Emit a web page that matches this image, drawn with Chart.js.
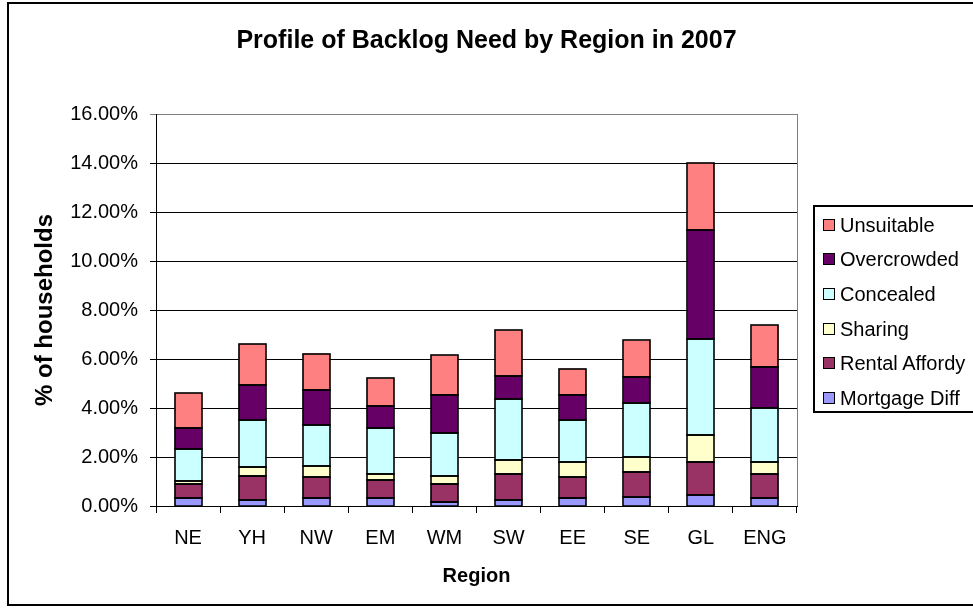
<!DOCTYPE html>
<html>
<head>
<meta charset="utf-8">
<script src="https://cdn.jsdelivr.net/npm/chart.js@4/dist/chart.umd.min.js"></script>
<style>
  html, body { margin: 0; padding: 0; background: #fff; overflow: hidden; }
  #wrap { position: relative; width: 973px; height: 608px; font-family: "Liberation Sans", Arial, sans-serif; }
  #chart { position: absolute; left: 0; top: 0; }
  #frame { position: absolute; left: 7px; top: 2px; width: 1000px; height: 600px; border: 2px solid #000; border-right: none; pointer-events: none; }
  #title { position: absolute; left: 0; top: 27px; width: 973px; text-align: center; font-weight: bold; font-size: 25px; line-height: 1; color: #000; }
  #legend { position: absolute; left: 813px; top: 205px; width: 200px; height: 204px; border: 2px solid #000; background: #fff; }
  .item { position: absolute; left: 0; height: 34px; line-height: 34px; font-size: 20px; color: #000; white-space: nowrap; }
  .item .sw { position: absolute; left: 8px; top: 11px; width: 10px; height: 10px; border: 1px solid #000; }
  .item span.lbl { position: absolute; left: 25px; top: 0; }
</style>
</head>
<body>
<div id="wrap">
  <canvas id="chart" width="973" height="608"></canvas>
  <div id="title">Profile of Backlog Need by Region in 2007</div>
  <div id="legend"></div>
  <div id="frame"></div>
</div>
<script>
// ---- Data (percent of households) ----
const REGIONS = ['NE', 'YH', 'NW', 'EM', 'WM', 'SW', 'EE', 'SE', 'GL', 'ENG'];

const MORTGAGE_DIFF = [0.33, 0.26, 0.33, 0.33, 0.15, 0.26, 0.31, 0.38, 0.45, 0.32];
const RENTAL_AFFORDY = [0.58, 0.98, 0.85, 0.72, 0.76, 1.06, 0.87, 1.02, 1.35, 0.97];
const SHARING = [0.11, 0.35, 0.47, 0.27, 0.30, 0.55, 0.62, 0.61, 1.09, 0.51];
const CONCEALED = [1.31, 1.94, 1.67, 1.85, 1.77, 2.51, 1.73, 2.21, 3.93, 2.22];
const OVERCROWDED = [0.87, 1.41, 1.43, 0.90, 1.57, 0.91, 1.02, 1.06, 4.45, 1.67];
const UNSUITABLE = [1.41, 1.67, 1.47, 1.14, 1.60, 1.88, 1.06, 1.48, 2.74, 1.69];

const Y_TICKS = [0, 2, 4, 6, 8, 10, 12, 14, 16];

// bottom to top
const SERIES = [
  { label: 'Mortgage Diff', data: MORTGAGE_DIFF, color: '#9999ff' },
  { label: 'Rental Affordy', data: RENTAL_AFFORDY, color: '#993366' },
  { label: 'Sharing', data: SHARING, color: '#ffffcc' },
  { label: 'Concealed', data: CONCEALED, color: '#ccffff' },
  { label: 'Overcrowded', data: OVERCROWDED, color: '#660066' },
  { label: 'Unsuitable', data: UNSUITABLE, color: '#ff8080' },
];

const FONT = '"Liberation Sans", Arial, sans-serif';

// grey border on the right edge of the plot area
const plotBorder = {
  id: 'plotBorder',
  beforeDatasetsDraw(chart) {
    const { ctx, chartArea: a } = chart;
    ctx.save();
    ctx.strokeStyle = '#808080';
    ctx.lineWidth = 1;
    ctx.beginPath();
    ctx.moveTo(Math.round(a.right) + 0.5, a.top);
    ctx.lineTo(Math.round(a.right) + 0.5, a.bottom);
    ctx.stroke();
    ctx.restore();
  }
};

// crisp black outlines round every bar segment (positions taken from the bar elements)
const barOutline = {
  id: 'barOutline',
  afterDatasetsDraw(chart) {
    const { ctx } = chart;
    ctx.save();
    ctx.strokeStyle = '#000';
    ctx.lineWidth = 1.6;
    chart.data.datasets.forEach((ds, i) => {
      chart.getDatasetMeta(i).data.forEach(bar => {
        const p = bar.getProps(['x', 'y', 'base', 'width'], true);
        const l = Math.round(p.x - p.width / 2);
        const r = Math.round(p.x + p.width / 2);
        const t = Math.round(Math.min(p.y, p.base));
        const b = Math.round(Math.max(p.y, p.base));
        ctx.strokeRect(l, t, r - l, b - t);
      });
    });
    ctx.restore();
  }
};

new Chart(document.getElementById('chart'), {
  type: 'bar',
  data: {
    labels: REGIONS,
    datasets: SERIES.map(s => ({
      label: s.label,
      data: s.data,
      backgroundColor: s.color,
      borderWidth: 0,
      barPercentage: 0.42,
      categoryPercentage: 1,
    }))
  },
  options: {
    responsive: false,
    animation: false,
    layout: { padding: { left: 0, right: 176, top: 114, bottom: 0 } },
    plugins: {
      legend: { display: false },
      title: { display: false },
      tooltip: { enabled: false },
    },
    scales: {
      x: {
        stacked: true,
        afterFit: scale => { scale.height = 102; },
        grid: { drawOnChartArea: false, drawTicks: true, tickLength: 7, color: '#000', offset: true },
        border: { color: '#000', width: 1 },
        ticks: { color: '#000', padding: 13, font: { family: FONT, size: 20 } },
        title: { display: true, text: 'Region', color: '#000', padding: { top: 0, bottom: 20 }, font: { family: FONT, size: 20, weight: 'bold', lineHeight: 1.2 } },
      },
      y: {
        stacked: true,
        min: Y_TICKS[0],
        max: Y_TICKS[Y_TICKS.length - 1],
        afterFit: scale => { scale.width = 156; },
        afterBuildTicks: scale => { scale.ticks = Y_TICKS.map(v => ({ value: v })); },
        grid: {
          drawTicks: true,
          tickLength: 6,
          color: ctx => (ctx.tick && ctx.tick.value === 16 ? '#808080' : '#000'),
        },
        border: { color: '#000', width: 1 },
        ticks: {
          color: '#000',
          padding: 12,
          font: { family: FONT, size: 20 },
          callback: v => v.toFixed(2) + '%',
        },
        title: { display: true, text: '% of households', color: '#000', padding: { top: 31, bottom: 0 }, font: { family: FONT, size: 24, weight: 'bold', lineHeight: 1.2 } },
      }
    }
  },
  plugins: [plotBorder, barOutline]
});

// ---- Legend (top item = top of stack) ----
const legend = document.getElementById('legend');
[...SERIES].reverse().forEach((s, i) => {
  const row = document.createElement('div');
  row.className = 'item';
  row.style.top = (i * 34.7 + 0.5) + 'px';
  row.innerHTML = `<div class="sw" style="background:${s.color}"></div><span class="lbl">${s.label}</span>`;
  legend.appendChild(row);
});
</script>
</body>
</html>
